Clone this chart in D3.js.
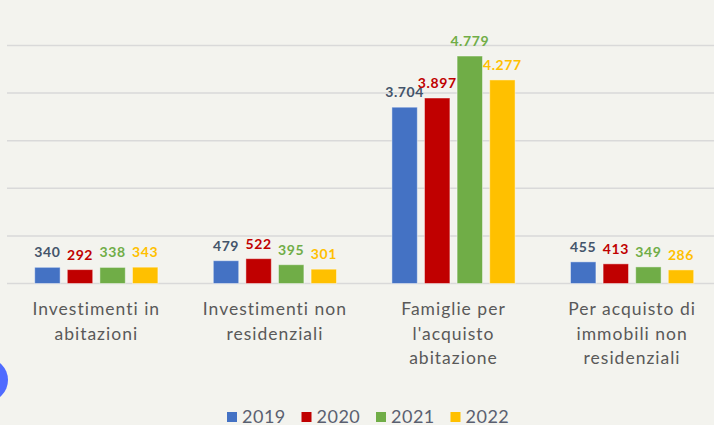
<!DOCTYPE html>
<html>
<head>
<meta charset="utf-8">
<script src="https://cdn.jsdelivr.net/npm/d3@7"></script>
<style>
  body { margin: 0; background: #f3f3ee; overflow: hidden; }
  svg { display: block; font-family: "Century Gothic", Lato, sans-serif; }
</style>
</head>
<body>
<script>
let width = 714;
let height = 425;

let categories = [
    ["Investimenti in", "abitazioni"],
    ["Investimenti non", "residenziali"],
    ["Famiglie per", "l'acquisto", "abitazione"],
    ["Per acquisto di", "immobili non", "residenziali"],
];
let years = ["2019", "2020", "2021", "2022"];
let values2019 = [340, 479, 3704, 455];
let values2020 = [292, 522, 3897, 413];
let values2021 = [338, 395, 4779, 349];
let values2022 = [343, 301, 4277, 286];
let yTicks = [0, 1000, 2000, 3000, 4000, 5000];

let series = [values2019, values2020, values2021, values2022];
let barColors = ["#4472c4", "#c00000", "#70ad47", "#ffc000"];
let labelColors = ["#44546a", "#c00000", "#70ad47", "#ffc000"];

let it = d3.formatLocale({ decimal: ",", thousands: ".", grouping: [3], currency: ["€", ""] });
let fmt = it.format(",d");

let svg = d3.select("body").append("svg")
    .attr("width", width)
    .attr("height", height);

// decorative circle at the left edge
svg.append("circle")
    .attr("cx", -14)
    .attr("cy", 380)
    .attr("r", 22)
    .style("fill", "#4f6bff");

let x0 = d3.scaleBand()
    .domain(d3.range(categories.length))
    .range([7, 721.4]);

let x1 = d3.scaleBand()
    .domain(years)
    .range([0, x0.bandwidth()])
    .paddingInner(0.22)
    .paddingOuter(0.85);

let y = d3.scaleLinear()
    .domain([0, 5000])
    .range([283.5, 45.5]);

// gridlines
svg.append("g")
    .selectAll("line")
    .data(yTicks)
    .enter()
    .append("line")
    .attr("x1", 7)
    .attr("x2", width)
    .attr("y1", d => y(d))
    .attr("y2", d => y(d))
    .style("stroke", "#d9d9d9")
    .style("stroke-width", 1.5);

// bars
let groups = svg.append("g")
    .selectAll("g")
    .data(categories)
    .enter()
    .append("g")
    .attr("transform", (d, i) => "translate(" + x0(i) + ",0)");

groups.each(function (c, ci) {
    let g = d3.select(this);
    let rows = years.map((yr, si) => ({ year: yr, si: si, v: series[si][ci] }));

    g.selectAll("rect")
        .data(rows)
        .enter()
        .append("rect")
        .attr("x", d => x1(d.year))
        .attr("y", d => y(d.v))
        .attr("width", x1.bandwidth())
        .attr("height", d => y(0) - y(d.v))
        .style("fill", d => barColors[d.si])
        .style("stroke", "rgba(255,255,255,0.45)")
        .style("stroke-width", 1);

    g.selectAll("text.val")
        .data(rows)
        .enter()
        .append("text")
        .attr("class", "val")
        .attr("x", d => x1(d.year) + x1.bandwidth() / 2)
        .attr("y", d => y(d.v) - 10)
        .attr("text-anchor", "middle")
        .style("font-size", "14px")
        .style("font-weight", "bold")
        .style("letter-spacing", "0.6px")
        .style("fill", d => labelColors[d.si])
        .text(d => fmt(d.v));
});

// category labels
let catLabels = svg.append("g")
    .selectAll("text")
    .data(categories)
    .enter()
    .append("text")
    .attr("x", (d, i) => x0(i) + x0.bandwidth() / 2)
    .attr("y", 315)
    .attr("text-anchor", "middle")
    .style("font-size", "17.5px")
    .style("letter-spacing", "1px")
    .style("fill", "#595959");

catLabels.selectAll("tspan")
    .data(d => d)
    .enter()
    .append("tspan")
    .attr("x", function () { return d3.select(this.parentNode).attr("x"); })
    .attr("dy", (d, i) => i === 0 ? 0 : 24.5)
    .text(d => d);

// legend
let legend = svg.append("g")
    .selectAll("g")
    .data(years)
    .enter()
    .append("g")
    .attr("transform", (d, i) => "translate(" + (227 + i * 74.5) + ",412)");

legend.append("rect")
    .attr("width", 10)
    .attr("height", 10)
    .style("fill", (d, i) => barColors[i]);

legend.append("text")
    .attr("x", 15)
    .attr("y", 10.5)
    .style("font-size", "18px")
    .style("letter-spacing", "0.5px")
    .style("fill", "#5a6070")
    .text(d => d);
</script>
</body>
</html>
